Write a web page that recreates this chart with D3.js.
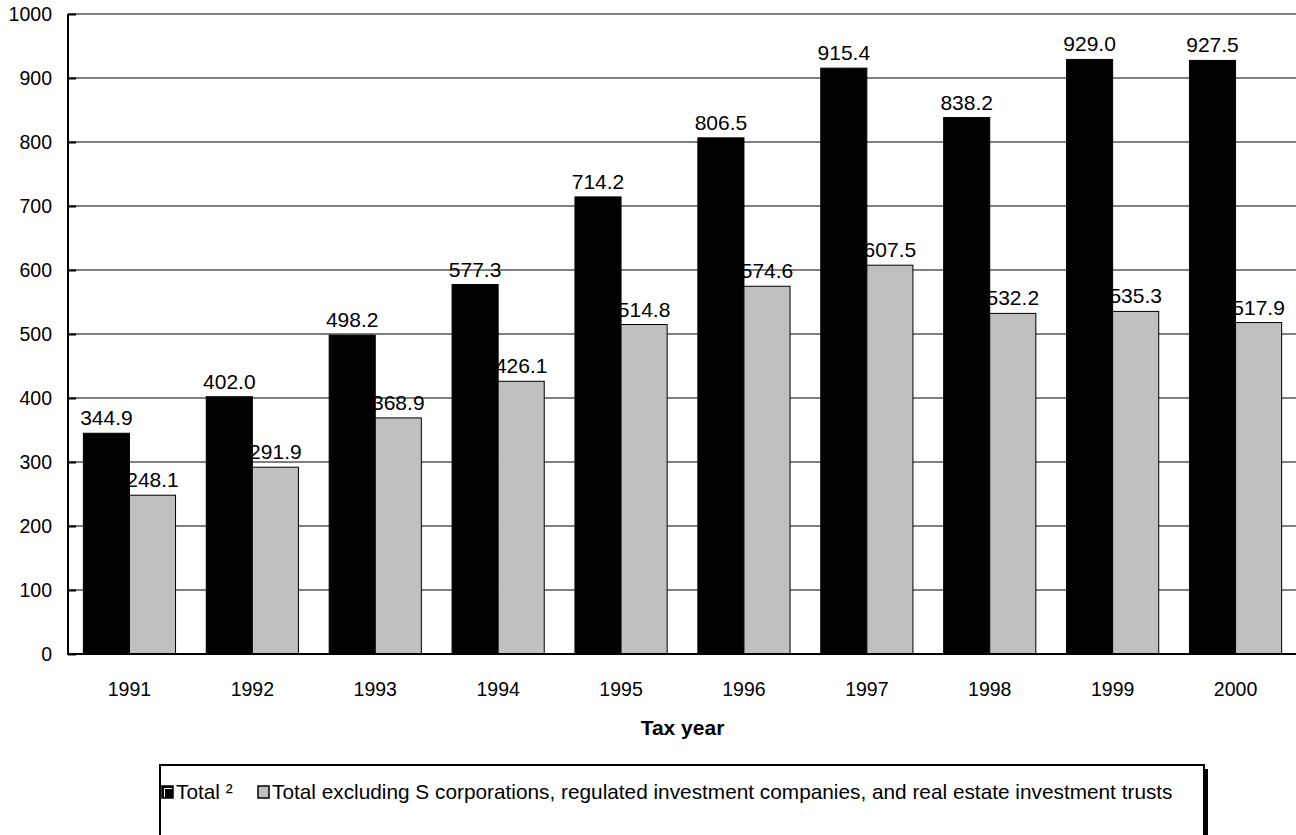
<!DOCTYPE html>
<html>
<head>
<meta charset="utf-8">
<script src="https://cdn.jsdelivr.net/npm/d3@7/dist/d3.min.js"></script>
<style>
  body { margin: 0; background: #fff; }
  text { font-family: "Liberation Sans", Arial, sans-serif; }
</style>
</head>
<body>
<script>
var width = 1296;
var height = 835;

var years = ["1991", "1992", "1993", "1994", "1995", "1996", "1997", "1998", "1999", "2000"];
var totalValues = [344.9, 402.0, 498.2, 577.3, 714.2, 806.5, 915.4, 838.2, 929.0, 927.5];
var exclValues = [248.1, 291.9, 368.9, 426.1, 514.8, 574.6, 607.5, 532.2, 535.3, 517.9];
var yTicks = [0, 100, 200, 300, 400, 500, 600, 700, 800, 900, 1000];
var seriesNames = ["Total \u00B2", "Total excluding S corporations, regulated investment companies, and real estate investment trusts"];
var seriesColors = ["#000000", "#c0c0c0"];

var svg = d3.select("body").append("svg")
    .attr("width", width)
    .attr("height", height);

var plotL = 68, plotR = 1297, plotT = 14, plotB = 654;

var x = d3.scaleBand().domain(years).range([plotL, plotR]).paddingInner(0.25).paddingOuter(0.125);
var x1 = d3.scaleBand().domain([0, 1]).range([0, x.bandwidth()]);
var y = d3.scaleLinear().domain([0, 1000]).range([plotB, plotT]);

// gridlines
svg.append("g").selectAll("line")
  .data(yTicks.slice(1))
  .enter().append("line")
  .attr("x1", plotL).attr("x2", width)
  .attr("y1", function(d){ return y(d); })
  .attr("y2", function(d){ return y(d); })
  .attr("stroke", "#000").attr("stroke-width", 1);

// y axis
var yAxis = svg.append("g")
  .attr("transform", "translate(" + plotL + ",0)")
  .call(d3.axisLeft(y).tickValues(yTicks).tickSize(-8).tickPadding(16).tickFormat(d3.format("d")));
yAxis.select(".domain").remove();
yAxis.selectAll(".tick line").attr("stroke", "#000").attr("stroke-width", 2);
yAxis.selectAll("text").attr("font-size", 19.5).attr("fill", "#000")
  .attr("font-family", "Liberation Sans, Arial, sans-serif");

var data = years.map(function(yr, i){ return {year: yr, vals: [totalValues[i], exclValues[i]]}; });

var groups = svg.append("g").selectAll("g")
  .data(data)
  .enter().append("g")
  .attr("transform", function(d){ return "translate(" + x(d.year) + ",0)"; });

groups.selectAll("rect")
  .data(function(d){ return d.vals; })
  .enter().append("rect")
  .attr("x", function(d, i){ return x1(i); })
  .attr("y", function(d){ return y(d); })
  .attr("width", x1.bandwidth())
  .attr("height", function(d){ return y(0) - y(d); })
  .attr("fill", function(d, i){ return seriesColors[i]; })
  .attr("stroke", "#000").attr("stroke-width", 1);

groups.selectAll("text.val")
  .data(function(d){ return d.vals; })
  .enter().append("text")
  .attr("class", "val")
  .attr("x", function(d, i){ return x1(i) + x1.bandwidth() / 2; })
  .attr("y", function(d){ return y(d) - 8; })
  .attr("text-anchor", "middle")
  .attr("font-size", 21)
  .text(function(d){ return d.toFixed(1); });

// axis lines
svg.append("line").attr("x1", plotL).attr("x2", plotL).attr("y1", plotT).attr("y2", plotB + 1)
  .attr("stroke", "#000").attr("stroke-width", 2);
svg.append("line").attr("x1", plotL - 1).attr("x2", width).attr("y1", plotB).attr("y2", plotB)
  .attr("stroke", "#000").attr("stroke-width", 2);

// x labels
svg.append("g").selectAll("text")
  .data(years)
  .enter().append("text")
  .attr("x", function(d){ return x(d) + x.bandwidth() / 2; })
  .attr("y", 696)
  .attr("text-anchor", "middle")
  .attr("font-size", 19.5)
  .text(function(d){ return d; });

svg.append("text")
  .attr("x", (plotL + plotR) / 2)
  .attr("y", 735)
  .attr("text-anchor", "middle")
  .attr("font-size", 21)
  .attr("font-weight", "bold")
  .text("Tax year");

// legend
var lg = svg.append("g");
lg.append("rect").attr("x", 164).attr("y", 769).attr("width", 1044).attr("height", 80)
  .attr("fill", "#000");
lg.append("rect").attr("x", 160).attr("y", 765).attr("width", 1044).attr("height", 80)
  .attr("fill", "#fff").attr("stroke", "#000").attr("stroke-width", 2);

var lx = [162, 258];
seriesNames.forEach(function(name, i){
  lg.append("rect").attr("x", lx[i]).attr("y", 786).attr("width", 11).attr("height", 12)
    .attr("fill", seriesColors[i]).attr("stroke", "#000").attr("stroke-width", 1.5);
  if (i === 0) {
    // small highlight giving the 3D look of the reference swatch
    lg.append("path").attr("d", "M" + (lx[i] + 2.5) + "," + 797 + "V" + 788.5 + "H" + (lx[i] + 10))
      .attr("fill", "none").attr("stroke", "#fff").attr("stroke-width", 1);
  }
  lg.append("text").attr("x", lx[i] + 14).attr("y", 799)
    .attr("font-size", 20.8).text(name);
});
</script>
</body>
</html>
